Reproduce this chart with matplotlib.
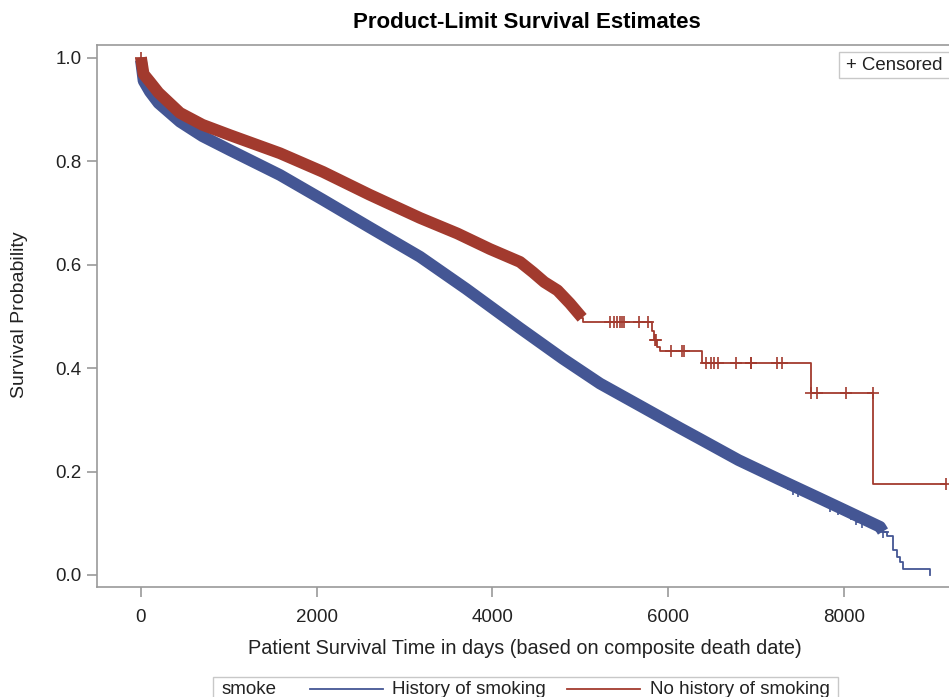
import numpy as np
import matplotlib
matplotlib.use("Agg")
import matplotlib.pyplot as plt
from matplotlib.patches import Rectangle
from matplotlib.lines import Line2D

plt.rcParams['font.family'] = ['Liberation Sans', 'DejaVu Sans']

# ---------------- data ----------------
title = "Product-Limit Survival Estimates"
xlabel = "Patient Survival Time in days (based on composite death date)"
ylabel = "Survival Probability"
group_title = "smoke"
groups = ["History of smoking", "No history of smoking"]
xticks = [0, 2000, 4000, 6000, 8000]
yticks = [0.0, 0.2, 0.4, 0.6, 0.8, 1.0]

# History of smoking: dense part (many events/censorings)
smk_t = [0, 30, 102, 200, 444, 700, 1013, 1582, 2071, 2600, 3175, 3700, 4313,
         4800, 5223, 5700, 6133, 6360, 6800, 7271, 7700, 8000, 8410, 8443]
smk_s = [0.995, 0.955, 0.934, 0.912, 0.876, 0.848, 0.821, 0.773, 0.725, 0.672,
         0.615, 0.553, 0.477, 0.418, 0.370, 0.325, 0.284, 0.263, 0.222, 0.184,
         0.150, 0.126, 0.093, 0.084]
# History of smoking: sparse tail (step function)
smk_tail_t = [8443, 8489, 8557, 8603, 8637, 8671, 8978]
smk_tail_s = [0.084, 0.075, 0.048, 0.035, 0.025, 0.011, 0.0]
smk_cens_t = [7418, 7475, 7839, 7930, 8135, 8203, 8443]
smk_cens_s = [0.166, 0.162, 0.134, 0.127, 0.108, 0.102, 0.084]

# No history of smoking: dense part
non_t = [0, 30, 102, 200, 444, 700, 1013, 1582, 2071, 2600, 3175, 3600, 3970,
         4313, 4460, 4590, 4740, 4880, 5020]
non_s = [1.0, 0.968, 0.953, 0.932, 0.893, 0.870, 0.850, 0.815, 0.779, 0.735,
         0.690, 0.660, 0.630, 0.605, 0.585, 0.566, 0.550, 0.525, 0.497]
# No history of smoking: sparse tail (step function)
non_tail_t = [5020, 5030, 5815, 5840, 5870, 5905, 6380, 7620, 8335, 9160]
non_tail_s = [0.497, 0.489, 0.472, 0.455, 0.440, 0.433, 0.409, 0.351, 0.176, 0.176]
non_cens_t = [0, 5335, 5380, 5415, 5450, 5470, 5495, 5665, 5770, 5845, 5865,
              6030, 6155, 6180, 6430, 6485, 6520, 6565, 6770, 6940, 6945, 7235,
              7295, 7625, 7690, 8020, 8330, 9160]

blue = "#445694"
red = "#A23A2E"
gray = "#9a9a9a"


def step_value(tt, ss, t):
    i = np.searchsorted(np.asarray(tt), t, side="right") - 1
    return np.asarray(ss)[max(i, 0)]


non_cens_s = [1.0 if t == 0 else step_value(non_tail_t, non_tail_s, t) for t in non_cens_t]

# ---------------- figure ----------------
W, H = 949, 697
fig = plt.figure(figsize=(W / 100, H / 100), dpi=100)


def fx(x):
    return x / W


def fy(y):
    return 1 - y / H


ax_l, ax_r, ax_t, ax_b = 97, 975, 45, 587
ax = fig.add_axes([fx(ax_l), fy(ax_b), fx(ax_r - ax_l), (ax_b - ax_t) / H])
ax.set_xlim(-500, 9490)
ax.set_ylim(-0.0232, 1.0242)

# dense bands
ax.plot(smk_t, smk_s, color=blue, lw=8.5, solid_capstyle="butt", solid_joinstyle="round", zorder=3)
ax.plot(non_t, non_s, color=red, lw=8.5, solid_capstyle="butt", solid_joinstyle="round", zorder=4)
# sparse tails
ax.plot(smk_tail_t, smk_tail_s, color=blue, lw=1.3, drawstyle="steps-post", zorder=3)
ax.plot(non_tail_t, non_tail_s, color=red, lw=1.3, drawstyle="steps-post", zorder=4)
# censor marks
ax.plot(smk_cens_t, smk_cens_s, ls="none", marker="+", ms=8, mew=1.2, color=blue, zorder=3)
ax.plot(non_cens_t, non_cens_s, ls="none", marker="+", ms=8, mew=1.2, color=red, zorder=4)

for side in ["left", "bottom", "top", "right"]:
    ax.spines[side].set_color(gray)
    ax.spines[side].set_linewidth(1.2)
ax.set_xticks(xticks)
ax.set_yticks(yticks)
ax.set_xticklabels([str(v) for v in xticks])
ax.set_yticklabels([f"{v:.1f}" for v in yticks])
ax.tick_params(axis="both", direction="out", length=7, width=1.2, color=gray,
               labelsize=13.5, labelcolor="#222222", pad=4)
ax.tick_params(axis="x", pad=9)

fig.text(fx(527), fy(22), title, ha="center", va="center", fontsize=16, fontweight="bold")
fig.text(fx(525), fy(648), xlabel, ha="center", va="center", fontsize=14.3, color="#222222")
fig.text(fx(20), fy(315), ylabel, ha="center", va="center", rotation=90, fontsize=14, color="#222222")

# Censored legend box
fig.add_artist(Rectangle((fx(839), fy(78)), fx(140), (78 - 52) / H, transform=fig.transFigure,
                         facecolor="white", edgecolor="#c8c8c8", lw=1.0))
fig.text(fx(846), fy(65), "+ Censored", ha="left", va="center", fontsize=13.4, color="#222222")

# bottom legend
fig.add_artist(Rectangle((fx(213), fy(712)), fx(838 - 213), (712 - 677) / H, transform=fig.transFigure,
                         facecolor="white", edgecolor="#c8c8c8", lw=1.0))
ly = 689
fig.text(fx(222), fy(ly), group_title, ha="left", va="center", fontsize=13.5, color="#222222")
fig.add_artist(Line2D([fx(310), fx(383)], [fy(ly), fy(ly)], color=blue, lw=1.3, transform=fig.transFigure))
fig.text(fx(392), fy(ly), groups[0], ha="left", va="center", fontsize=13.5, color="#222222")
fig.add_artist(Line2D([fx(567), fx(640)], [fy(ly), fy(ly)], color=red, lw=1.3, transform=fig.transFigure))
fig.text(fx(650), fy(ly), groups[1], ha="left", va="center", fontsize=13.5, color="#222222")

fig.savefig("out.png", dpi=100)
